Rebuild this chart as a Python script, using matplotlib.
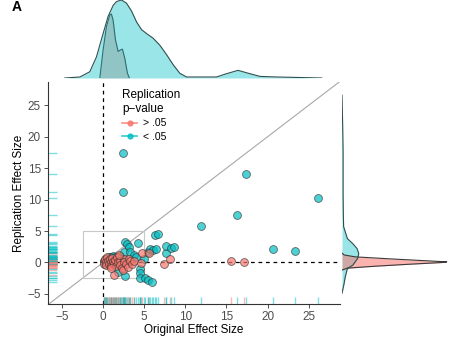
import matplotlib
matplotlib.use("Agg")
import matplotlib.pyplot as plt
from matplotlib.lines import Line2D
from matplotlib.patches import Rectangle
import numpy as np

plt.rcParams['font.family'] = ['Liberation Sans', 'DejaVu Sans']

PINK = '#F8766D'
TEAL = '#00BFC4'

# ---- data: replication p > .05 (pink) ----
pink_orig = [0.05, 0.1, 0.2, 0.3, 0.4, 0.5, 0.6, 0.7, 0.8, 0.9, 1.0, 1.1, 1.2, 1.3, 1.5,
             1.6, 1.7, 1.8, 2.0, 2.1, 2.3, 2.4, 2.5, 2.6, 2.8, 3.0, 3.1, 3.3, 3.5, 3.7,
             1.34, 4.6, 4.7, 5.6, 7.4, 8.1, 15.6, 17.15, 1.9, 0.9]
pink_rep = [0.3, -0.2, 0.6, 0.0, -0.4, 0.8, 0.2, -0.3, 0.5, 0.0, -0.5, 0.7, 0.1, -0.2, 0.4,
            -0.6, 0.9, 0.0, 0.3, -0.4, -0.95, -1.2, 0.5, 0.0, -0.3, -0.7, 0.6, 0.2, -0.3, 0.3,
            -2.0, -0.05, 1.5, 1.5, -0.3, 0.5, 0.2, 0.05, 1.2, -0.9]

# ---- data: replication p < .05 (teal) ----
teal_orig = [0.1, 0.3, 0.5, 0.7, 1.0, 1.2, 1.4, 1.6, 2.0, 2.2, 0.2, 1.75, 2.7,
             2.64, 2.9, 3.2, 4.3, 2.55, 3.25, 3.8, 5.4, 5.7, 6.1, 6.4, 6.3, 6.7,
             7.6, 7.7, 8.3, 8.6, 4.46, 4.5, 4.46, 5.15, 5.5, 6.0, 4.0, 5.0,
             2.43, 2.43, 17.4, 26.1, 16.3, 11.85, 20.6, 23.3]
teal_rep = [0.2, 0.5, 0.6, 0.9, 0.8, 1.0, 0.9, 0.3, 1.1, 0.7, -0.3, -1.5, -2.2,
            3.3, 2.9, 2.5, 3.1, 1.7, 1.7, 1.16, 1.7, 2.07, 1.95, 2.07, 4.4, 4.6,
            1.5, 2.6, 2.3, 2.5, -1.1, -1.65, -2.5, -2.4, -2.8, -3.1, 0.8, 0.5,
            17.4, 11.2, 14.1, 10.3, 7.6, 5.8, 2.07, 1.85]

# ---- marginal density curves ----
top_teal_x = [-4.66, -2.83, -1.62, -0.81, 0.0, 0.61, 1.22, 1.63, 2.23, 2.84, 3.45, 4.06,
              4.67, 5.28, 6.08, 6.9, 7.71, 8.52, 9.33, 10.15, 11.76, 13.8, 15.0, 16.4,
              17.85, 19.1, 21.1, 26.6]
top_teal_h = [0.0, 0.013, 0.08, 0.27, 0.57, 0.79, 0.93, 0.98, 1.0, 0.96, 0.86, 0.72,
              0.62, 0.57, 0.51, 0.42, 0.30, 0.17, 0.06, 0.013, 0.013, 0.013, 0.055, 0.098,
              0.055, 0.02, 0.013, 0.0]
top_gray_x = [-0.4, 0.0, 0.41, 0.81, 1.01, 1.22, 1.5, 1.83, 2.11, 2.35, 2.64, 2.96, 3.2]
top_gray_h = [0.0, 0.36, 0.66, 0.81, 0.82, 0.74, 0.49, 0.34, 0.36, 0.37, 0.25, 0.06, 0.0]

right_teal_y = [26.6, 22.0, 17.5, 14.0, 11.0, 8.0, 5.7, 3.8, 3.0, 2.2, 1.43, 0.64,
                -0.43, -0.95, -2.3, -3.3, -4.9]
right_teal_w = [0.0, 0.006, 0.01, 0.01, 0.01, 0.012, 0.015, 0.05, 0.10, 0.14, 0.155, 0.145,
                0.10, 0.05, 0.03, 0.02, 0.0]
right_pink_y = [-1.2, -0.9, -0.6, -0.3, 0.0, 0.1, 0.3, 0.6, 0.9, 1.2, 1.5]
right_pink_w = [0.0, 0.05, 0.30, 0.60, 0.93, 0.97, 0.75, 0.42, 0.12, 0.02, 0.0]

ticks = [-5, 0, 5, 10, 15, 20, 25]
xlim = (-6.7, 28.8)
ylim = (-6.6, 28.7)

W, H = 454, 341
fig = plt.figure(figsize=(W / 100, H / 100), dpi=100)

ax = fig.add_axes([48 / W, (H - 304) / H, 292 / W, 222 / H])
axt = fig.add_axes([48 / W, (H - 78) / H, 292 / W, 78 / H])
axr = fig.add_axes([342 / W, (H - 304) / H, 108 / W, 222 / H])

# main panel
ax.set_xlim(*xlim)
ax.set_ylim(*ylim)
ax.plot([xlim[0], xlim[1]], [xlim[0], xlim[1]], color='#A8A8A8', lw=0.8, zorder=1)
ax.add_patch(Rectangle((-2.5, -2.5), 7.5, 7.5, fill=False, ec='#C8C8C8', lw=0.8, zorder=1))
ax.axvline(0, color='black', lw=0.9, ls=(0, (3, 3)), zorder=2)
ax.axhline(0, color='black', lw=0.9, ls=(0, (3, 3)), zorder=2)

# rugs
for vals, col in ((pink_orig, PINK), (teal_orig, TEAL)):
    for v in vals:
        ax.plot([v, v], [0, 0.03], transform=ax.get_xaxis_transform(), color=col,
                alpha=0.5, lw=1.0, zorder=2, solid_capstyle='butt')
for vals, col in ((pink_rep, PINK), (teal_rep, TEAL)):
    for v in vals:
        ax.plot([0, 0.03], [v, v], transform=ax.get_yaxis_transform(), color=col,
                alpha=0.5, lw=1.0, zorder=2, solid_capstyle='butt')

ax.scatter(teal_orig, teal_rep, s=32, c=TEAL, alpha=0.7, edgecolors='#333333',
           linewidths=0.6, zorder=3)
ax.scatter(pink_orig, pink_rep, s=32, c=PINK, alpha=0.7, edgecolors='#333333',
           linewidths=0.6, zorder=3)

for s in ('top', 'right'):
    ax.spines[s].set_visible(False)
for s in ('left', 'bottom'):
    ax.spines[s].set_color('#333333')
    ax.spines[s].set_linewidth(0.8)
ax.set_xticks(ticks)
ax.set_yticks(ticks)
ax.tick_params(labelsize=8.5, colors='#333333', labelcolor='#4D4D4D', length=3, width=0.6, pad=2)
ax.set_xlabel('Original Effect Size', fontsize=8.5, labelpad=1)
ax.set_ylabel('Replication Effect Size', fontsize=8.5, labelpad=2)

handles = [Line2D([0], [0], color=PINK, lw=1.2, marker='o', markersize=3.5, alpha=0.8),
           Line2D([0], [0], color=TEAL, lw=1.2, marker='o', markersize=3.5, alpha=0.8)]
leg = ax.legend(handles, ['> .05', '< .05'], title='Replication\np\u2212value',
                loc='upper left', bbox_to_anchor=(0.24, 0.985), frameon=False,
                fontsize=7.5, title_fontsize=8.5, handlelength=1.4, handletextpad=0.6,
                labelspacing=0.3, borderaxespad=0.0)
leg._legend_box.align = 'left'

# top marginal
axt.set_xlim(*xlim)
axt.set_ylim(0, 1.0)
axt.fill_between(top_teal_x, top_teal_h, 0, color=TEAL, alpha=0.4, lw=0)
axt.plot(top_teal_x, top_teal_h, color='#2F4F4F', lw=0.8)
axt.fill_between(top_gray_x, top_gray_h, 0, color='#808080', alpha=0.32, lw=0)
axt.plot(top_gray_x, top_gray_h, color='#2E6E70', lw=0.8)
axt.axis('off')

# right marginal
axr.set_ylim(*ylim)
axr.set_xlim(0, 1.0)
axr.fill_betweenx(right_teal_y, right_teal_w, 0, color=TEAL, alpha=0.4, lw=0)
axr.plot(right_teal_w, right_teal_y, color='#2F4F4F', lw=0.8)
axr.fill_betweenx(right_pink_y, right_pink_w, 0, color=PINK, alpha=0.55, lw=0)
axr.plot(right_pink_w, right_pink_y, color='#3A3A3A', lw=0.8)
axr.axis('off')

fig.text(12 / W, 1.0, 'A', fontsize=10, fontweight='bold', va='top')

fig.savefig('out.png', dpi=100)
